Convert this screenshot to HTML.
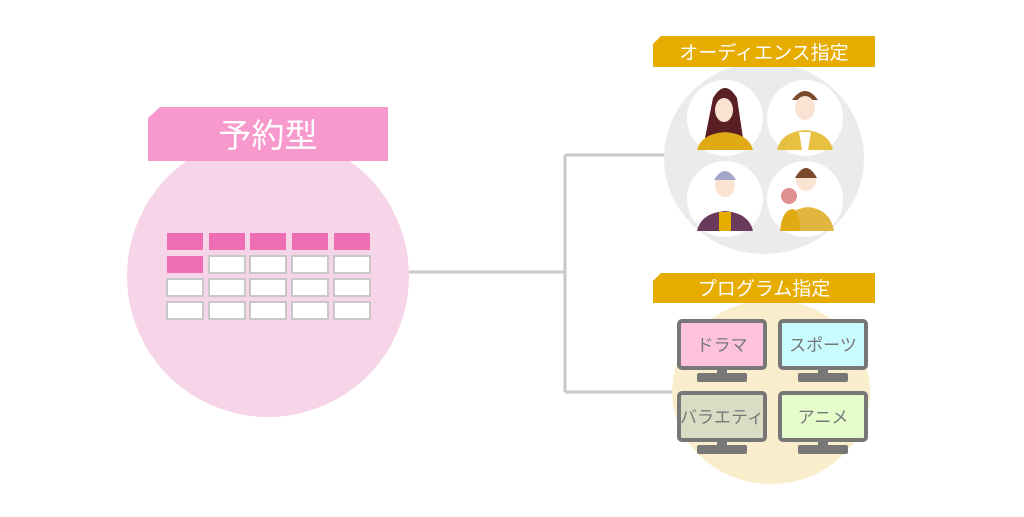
<!DOCTYPE html>
<html><head><meta charset="utf-8"><style>
body{margin:0;width:1024px;height:512px;background:#fff;overflow:hidden;font-family:"Liberation Sans","Noto Sans CJK JP",sans-serif}
</style></head><body>
<svg width="1024" height="512" viewBox="0 0 1024 512" xmlns="http://www.w3.org/2000/svg" font-family="Liberation Sans, Noto Sans CJK JP, sans-serif">
<g stroke="#c8c8c8" stroke-width="3" fill="none">
<path d="M405 272H565M565 155V392M565 155H668M565 392H675"/>
</g>
<circle cx="268" cy="276" r="141" fill="#f6d5e8"/>
<path d="M160 107H388V161H148V118Z" fill="#f799cc"/>
<text x="268" y="147" font-size="33" fill="#fff" text-anchor="middle">予約型</text>
<g fill="#ef6db5">
<rect x="167" y="233" width="36" height="17"/><rect x="209" y="233" width="36" height="17"/><rect x="250" y="233" width="36" height="17"/><rect x="292" y="233" width="36" height="17"/><rect x="334" y="233" width="36" height="17"/>
<rect x="167" y="256" width="36" height="17"/>
</g>
<g fill="#fff" stroke="#c8c8c8" stroke-width="2">
<rect x="209" y="256" width="36" height="17"/><rect x="250" y="256" width="36" height="17"/><rect x="292" y="256" width="36" height="17"/><rect x="334" y="256" width="36" height="17"/>
<rect x="167" y="279" width="36" height="17"/><rect x="209" y="279" width="36" height="17"/><rect x="250" y="279" width="36" height="17"/><rect x="292" y="279" width="36" height="17"/><rect x="334" y="279" width="36" height="17"/>
<rect x="167" y="302" width="36" height="17"/><rect x="209" y="302" width="36" height="17"/><rect x="250" y="302" width="36" height="17"/><rect x="292" y="302" width="36" height="17"/><rect x="334" y="302" width="36" height="17"/>
</g>
<!-- audience -->
<ellipse cx="764" cy="158" rx="100" ry="96" fill="#ebebeb"/>
<path d="M661 36H875V67H653V44Z" fill="#e6ac00"/>
<text x="764" y="59" font-size="19" fill="#fff" text-anchor="middle">オーディエンス指定</text>
<g fill="#fff"><circle cx="725" cy="118" r="38"/><circle cx="805" cy="118" r="38"/><circle cx="725" cy="199" r="38"/><circle cx="805" cy="199" r="38"/></g>
<!-- person 1 -->
<path d="M713 98q12-20 24 0l6 40h-38z" fill="#5a1f24"/>
<ellipse cx="724" cy="110" rx="9" ry="12" fill="#fbe3d4"/>
<path d="M697 150q4-16 28-18q24 2 28 18z" fill="#e0aa14"/>
<!-- person 2 -->
<path d="M792 100q13-18 26 0z" fill="#7a4a2a"/>
<ellipse cx="805" cy="108" rx="10" ry="12" fill="#fbe3d4"/>
<path d="M777 150q4-18 28-20q24 2 28 20z" fill="#e8c040"/>
<path d="M799 132h12l-3 18h-6z" fill="#fff"/>
<!-- person 3 -->
<ellipse cx="725" cy="185" rx="10" ry="12" fill="#fbe3d4"/>
<path d="M714 180q11-18 22 0z" fill="#a4a8c8"/>
<path d="M697 231q4-18 28-20q24 2 28 20z" fill="#6a3a5a"/>
<path d="M719 212h12v19h-12z" fill="#e6ac00"/>
<!-- person 4 -->
<ellipse cx="806" cy="180" rx="10" ry="11" fill="#fbe3d4"/>
<path d="M795 178q11-20 22 0z" fill="#7a4a2a"/>
<path d="M782 231q4-22 26-24q22 2 26 24z" fill="#e0b640"/>
<circle cx="789" cy="196" r="8" fill="#e09090"/>
<path d="M780 231q2-22 14-22q8 10 6 22z" fill="#e0aa14"/>
<!-- program -->
<ellipse cx="771" cy="392" rx="99" ry="92" fill="#f9edcc"/>
<path d="M661 273H875V303H653V281Z" fill="#e6ac00"/>
<text x="764" y="295" font-size="19" fill="#fff" text-anchor="middle">プログラム指定</text>
<g stroke="#777" stroke-width="4">
<rect x="679" y="321" width="86" height="47" rx="3" fill="#fec2dc"/>
<rect x="780" y="321" width="86" height="47" rx="3" fill="#c8fcff"/>
<rect x="679" y="393" width="86" height="47" rx="3" fill="#dadcc4"/>
<rect x="780" y="393" width="86" height="47" rx="3" fill="#e4fdca"/>
</g>
<g fill="#777">
<rect x="717" y="368" width="10" height="6"/><rect x="697" y="373" width="50" height="9" rx="2"/>
<rect x="818" y="368" width="10" height="6"/><rect x="798" y="373" width="50" height="9" rx="2"/>
<rect x="717" y="440" width="10" height="6"/><rect x="697" y="445" width="50" height="9" rx="2"/>
<rect x="818" y="440" width="10" height="6"/><rect x="798" y="445" width="50" height="9" rx="2"/>
</g>
<g font-size="17" fill="#777" text-anchor="middle">
<text x="722" y="351">ドラマ</text><text x="823" y="351">スポーツ</text>
<text x="722" y="423">バラエティ</text><text x="823" y="423">アニメ</text>
</g>
</svg>
</body></html>
